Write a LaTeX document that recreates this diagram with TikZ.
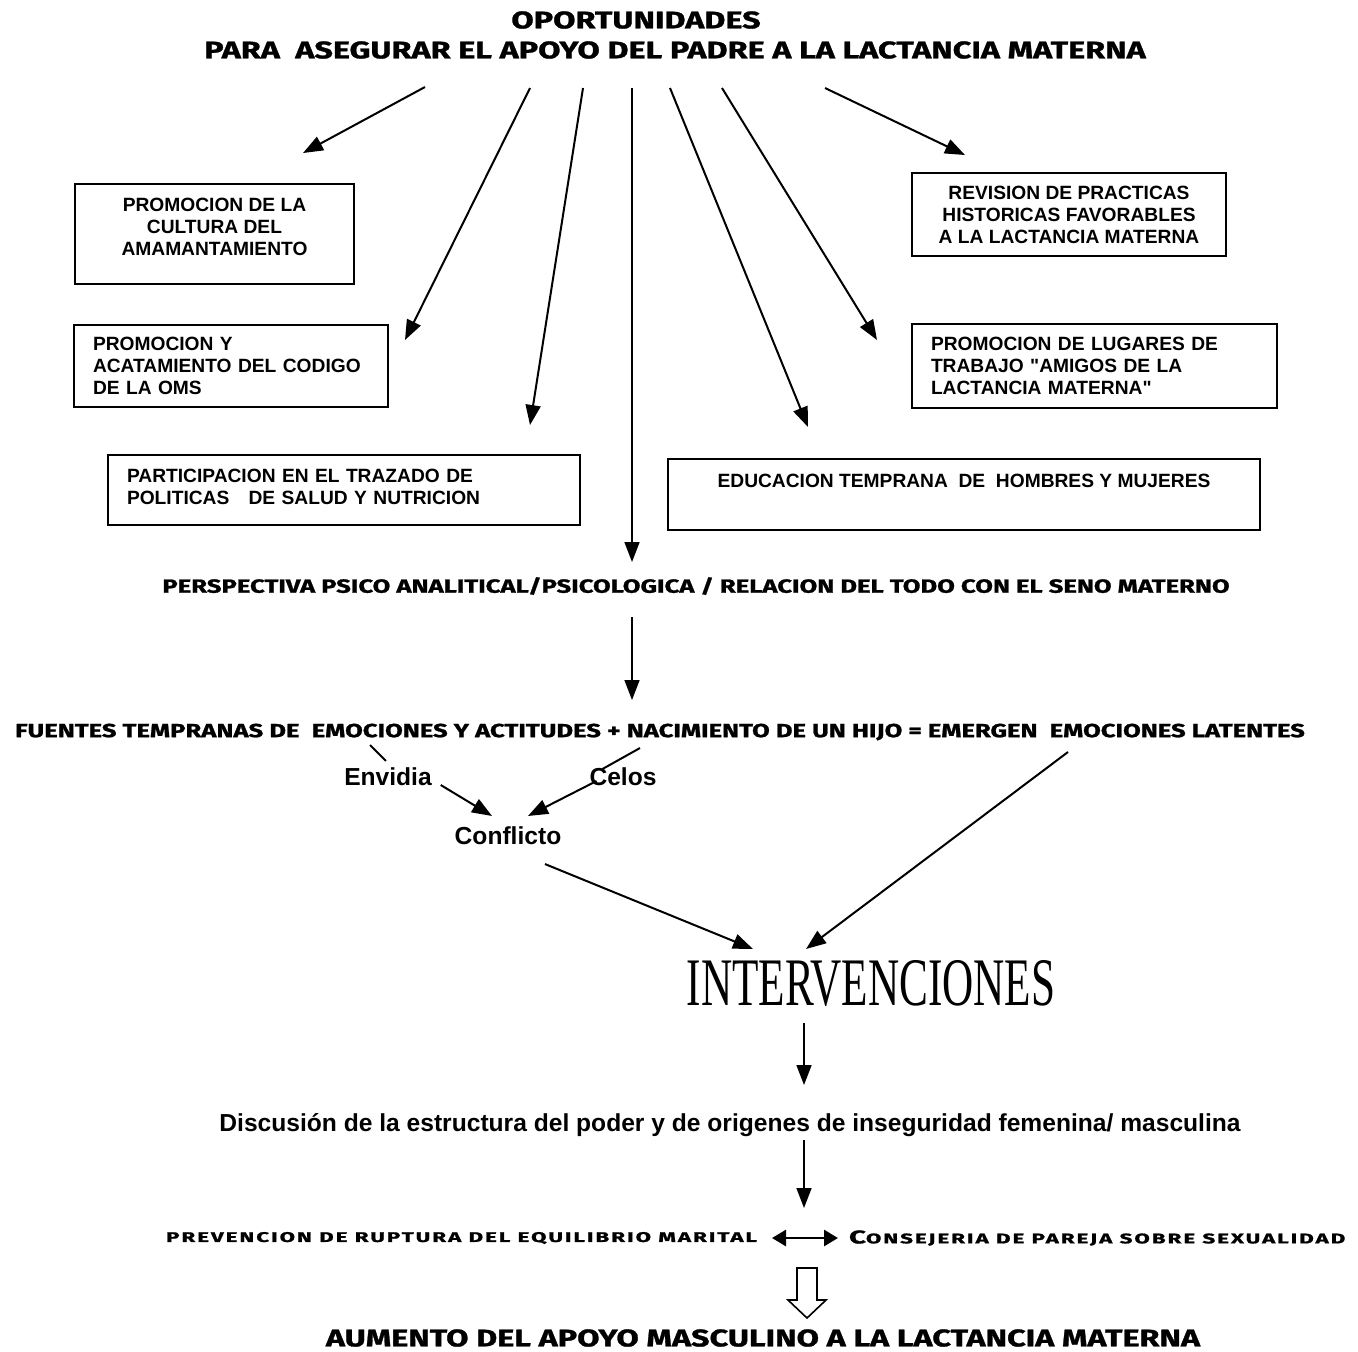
\documentclass[tikz,border=0pt]{standalone}
\usepackage{fontspec}
\setmainfont{Liberation Sans}
\newfontfamily\headfont{Fira Sans}[FakeStretch=1.35, BoldFeatures={FakeBold=1.2}]
\newfontfamily\spacedfont{Fira Sans}[FakeStretch=1.6, LetterSpace=14, BoldFeatures={FakeBold=1.2}]
\newfontfamily\condserif{Liberation Serif}
\usetikzlibrary{arrows.meta}

\begin{document}
\begin{tikzpicture}[x=0.5pt, y=-0.5pt, line width=1pt,
      >={Triangle[length=10pt,width=7.5pt]},
      every node/.append style={inner sep=0pt}]
    \tikzstyle{caja} = [draw, line width=1pt, font=\bfseries\fontsize{9.6}{11}\selectfont]
    \tikzstyle{titulo} = [font=\headfont\bfseries\fontsize{12}{15}\selectfont]
    \tikzstyle{linea} = [font=\headfont\bfseries\fontsize{9.5}{11}\selectfont]
    \tikzstyle{palabra} = [font=\bfseries\fontsize{12.3}{14}\selectfont]
    \tikzstyle{pequena} = [font=\spacedfont\bfseries\fontsize{7}{8}\selectfont]
    \useasboundingbox (0,0) rectangle (1358,1351);

    % titulo
    \node (oportunidades) [titulo] at (636,20) {OPORTUNIDADES};
    \node (titulo) [titulo] at (675,50) {PARA \ ASEGURAR EL APOYO DEL PADRE A LA LACTANCIA MATERNA};

    % cajas de oportunidades
    \node (cultura) [caja, align=center, minimum width=139.5pt, minimum height=50pt] at (214.5,234)
      {PROMOCION DE LA\\CULTURA DEL\\AMAMANTAMIENTO\rule[-7pt]{0pt}{0pt}};
    \node (codigo) [caja, align=left, text width=138pt, inner xsep=9.5pt, minimum height=41pt] at (231,366)
      {PROMOCION Y\\ACATAMIENTO DEL CODIGO\\DE LA OMS};
    \node (politicas) [caja, align=left, text width=217pt, inner xsep=9.5pt, minimum height=35pt] at (344,490)
      {PARTICIPACION EN EL TRAZADO DE\\POLITICAS \ \ DE SALUD Y NUTRICION\rule[-3.5pt]{0pt}{0pt}};
    \node (historicas) [caja, align=center, minimum width=157pt, minimum height=41.5pt] at (1069,214.5)
      {REVISION DE PRACTICAS\\HISTORICAS FAVORABLES\\A LA LACTANCIA MATERNA};
    \node (trabajo) [caja, align=left, text width=163.5pt, inner xsep=9.5pt, minimum height=42pt] at (1094.5,366)
      {PROMOCION DE LUGARES DE\\TRABAJO \textquotedbl AMIGOS DE LA\\LACTANCIA MATERNA\textquotedbl};
    \node (educacion) [caja, align=center, minimum width=296pt, minimum height=35.5pt] at (964,494.5)
      {EDUCACION TEMPRANA \ DE \ HOMBRES Y MUJERES\rule[-14pt]{0pt}{0pt}};

    % flechas desde el titulo
    \coordinate (s1) at (425,87);  \coordinate (e1) at (303,153);
    \coordinate (s2) at (530,88);  \coordinate (e2) at (405,340);
    \coordinate (s3) at (583,88);  \coordinate (e3) at (530,425);
    \coordinate (s4) at (632,88);  \coordinate (e4) at (632,562);
    \coordinate (s5) at (670,88);  \coordinate (e5) at (808,427);
    \coordinate (s6) at (722,88);  \coordinate (e6) at (877,340);
    \coordinate (s7) at (825,88);  \coordinate (e7) at (965,155);
    \draw[->] (s1) -- (e1);
    \draw[->] (s2) -- (e2);
    \draw[->] (s3) -- (e3);
    \draw[->, line width=0.8pt] (s4) -- (e4);
    \draw[->] (s5) -- (e5);
    \draw[->] (s6) -- (e6);
    \draw[->] (s7) -- (e7);

    % perspectiva y fuentes
    \node (perspectiva) [linea] at (696,586)
      {PERSPECTIVA PSICO ANALITICAL/PSICOLOGICA / RELACION DEL TODO CON EL SENO MATERNO};
    \coordinate (p1) at (632,617);
    \coordinate (p2) at (632,700);
    \draw[->, line width=0.8pt] (p1) -- (p2);
    \node (fuentes) [linea] at (660,732)
      {FUENTES TEMPRANAS DE \ EMOCIONES Y ACTITUDES + NACIMIENTO DE UN HIJO = EMERGEN \ EMOCIONES LATENTES};

    % emociones y conflicto
    \node (envidia) [palabra] at (388,777) {Envidia};
    \node (celos) [palabra] at (623,777) {Celos};
    \node (conflicto) [palabra] at (508,836) {Conflicto};
    \coordinate (emo) at (370,745);
    \coordinate (nac) at (640,748);
    \coordinate (lat) at (1068,752);
    \draw (emo) -- ([shift={(-2,-6)}]envidia.north);
    \draw (nac) -- ([shift={(14,2)}]celos.north west);
    \draw[->] ([shift={(8,8)}]envidia.east) -- ([shift={(-16,-10)}]conflicto.north);
    \draw[->] ([shift={(8,4)}]celos.west) -- ([shift={(20,-10)}]conflicto.north);

    % intervenciones
    \node (intervenciones) [font=\condserif\fontsize{34}{36}\selectfont] at (871,983)
      {\scalebox{0.635}[1]{INTERVENCIONES}};
    \draw[->] ([shift={(37,18)}]conflicto.south) -- ([shift={(-118,-10)}]intervenciones.north);
    \draw[->] (lat) -- ([shift={(-65,-10)}]intervenciones.north);

    % discusion
    \node (discusion) [palabra, anchor=base] at (730,1131)
      {Discusión de la estructura del poder y de origenes de inseguridad femenina/ masculina};
    \coordinate (i1) at (804,1023);
    \coordinate (i2) at (804,1085);
    \coordinate (d1) at (804,1140);
    \coordinate (d2) at (804,1208);
    \draw[->, line width=0.8pt] (i1) -- (i2);
    \draw[->, line width=0.8pt] (d1) -- (d2);

    % prevencion y consejeria
    \node (prevencion) [pequena, anchor=east] at (758,1238) {PREVENCION DE RUPTURA DEL EQUILIBRIO MARITAL};
    \node (consejeria) [pequena, anchor=west] at (848,1238) {{\fontsize{9.2}{9}\selectfont C}ONSEJERIA DE PAREJA SOBRE SEXUALIDAD};
    \draw[<->, line width=1.4pt, >={Triangle[length=7pt,width=8pt]}] ([xshift=7pt]prevencion.east) -- ([xshift=-5pt]consejeria.west);

    % aumento
    \node (aumento) [titulo] at (763,1338) {AUMENTO DEL APOYO MASCULINO A LA LACTANCIA MATERNA};
    \coordinate (hueca) at (807,1268);
    \draw[line width=0.8pt] (hueca) ++(-10,0) -- ++(20,0) -- ++(0,32) -- ++(9,0)
      -- ++(-19,18) -- ++(-19,-18) -- ++(9,0) -- cycle;
  \end{tikzpicture}
\end{document}
